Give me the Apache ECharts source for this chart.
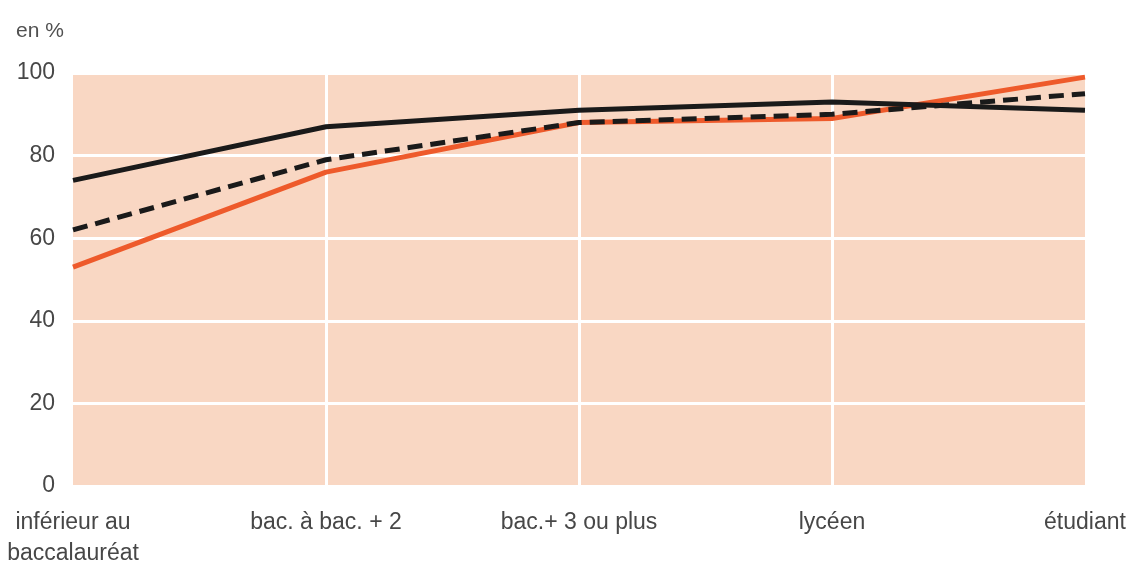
<!DOCTYPE html>
<html>
<head>
<meta charset="utf-8">
<script src="https://cdn.jsdelivr.net/npm/echarts@6/dist/echarts.min.js"></script>
<style>
html,body{margin:0;padding:0;background:#fff;}
#c{width:1137px;height:570px;}
</style>
</head>
<body>
<div id="c"></div>
<script>
const categories = ["inférieur au\nbaccalauréat", "bac. à bac. + 2", "bac.+ 3 ou plus", "lycéen", "étudiant"];
const blackSolid = [74, 87, 91, 93, 91];
const blackDashed = [62, 79, 88, 90, 95];
const orangeSolid = [53, 76, 88, 89, 99];
const yTicks = [0, 20, 40, 60, 80, 100];

const font = "'Liberation Sans', Arial, sans-serif";
const chart = echarts.init(document.getElementById('c'));
chart.setOption({
  animation: false,
  backgroundColor: '#ffffff',
  title: {
    text: 'en %', left: 11, top: 16,
    textStyle: {fontFamily: font, fontSize: 21, fontWeight: 'normal', color: '#505050'}
  },
  grid: {
    left: 73, right: 52, top: 73, bottom: 84,
    show: true, backgroundColor: '#F9D7C3', borderWidth: 0
  },
  xAxis: {
    type: 'category',
    data: categories,
    boundaryGap: false,
    axisLine: {show: false},
    axisTick: {show: false},
    axisLabel: {
      fontFamily: font, fontSize: 23, color: '#474747', margin: 21, lineHeight: 31,
      interval: 0
    },
    splitLine: {
      show: true,
      interval: function (i) { return i > 0 && i < categories.length - 1; },
      lineStyle: {color: '#ffffff', width: 3}
    }
  },
  yAxis: {
    type: 'value',
    min: yTicks[0], max: yTicks[yTicks.length - 1], interval: 20,
    axisLine: {show: false},
    axisTick: {show: false},
    axisLabel: {fontFamily: font, fontSize: 23, color: '#474747', margin: 18},
    splitLine: {show: true, lineStyle: {color: '#ffffff', width: 3}}
  },
  series: [
    {
      type: 'line', data: orangeSolid, symbol: 'none', z: 2,
      lineStyle: {color: '#EE5A2B', width: 5}
    },
    {
      type: 'line', data: blackSolid, symbol: 'none', z: 3,
      lineStyle: {color: '#1a1a1a', width: 5}
    },
    {
      type: 'line', data: blackDashed, symbol: 'none', z: 4,
      lineStyle: {color: '#1a1a1a', width: 5, type: [15, 8]}
    }
  ]
});
</script>
</body>
</html>
